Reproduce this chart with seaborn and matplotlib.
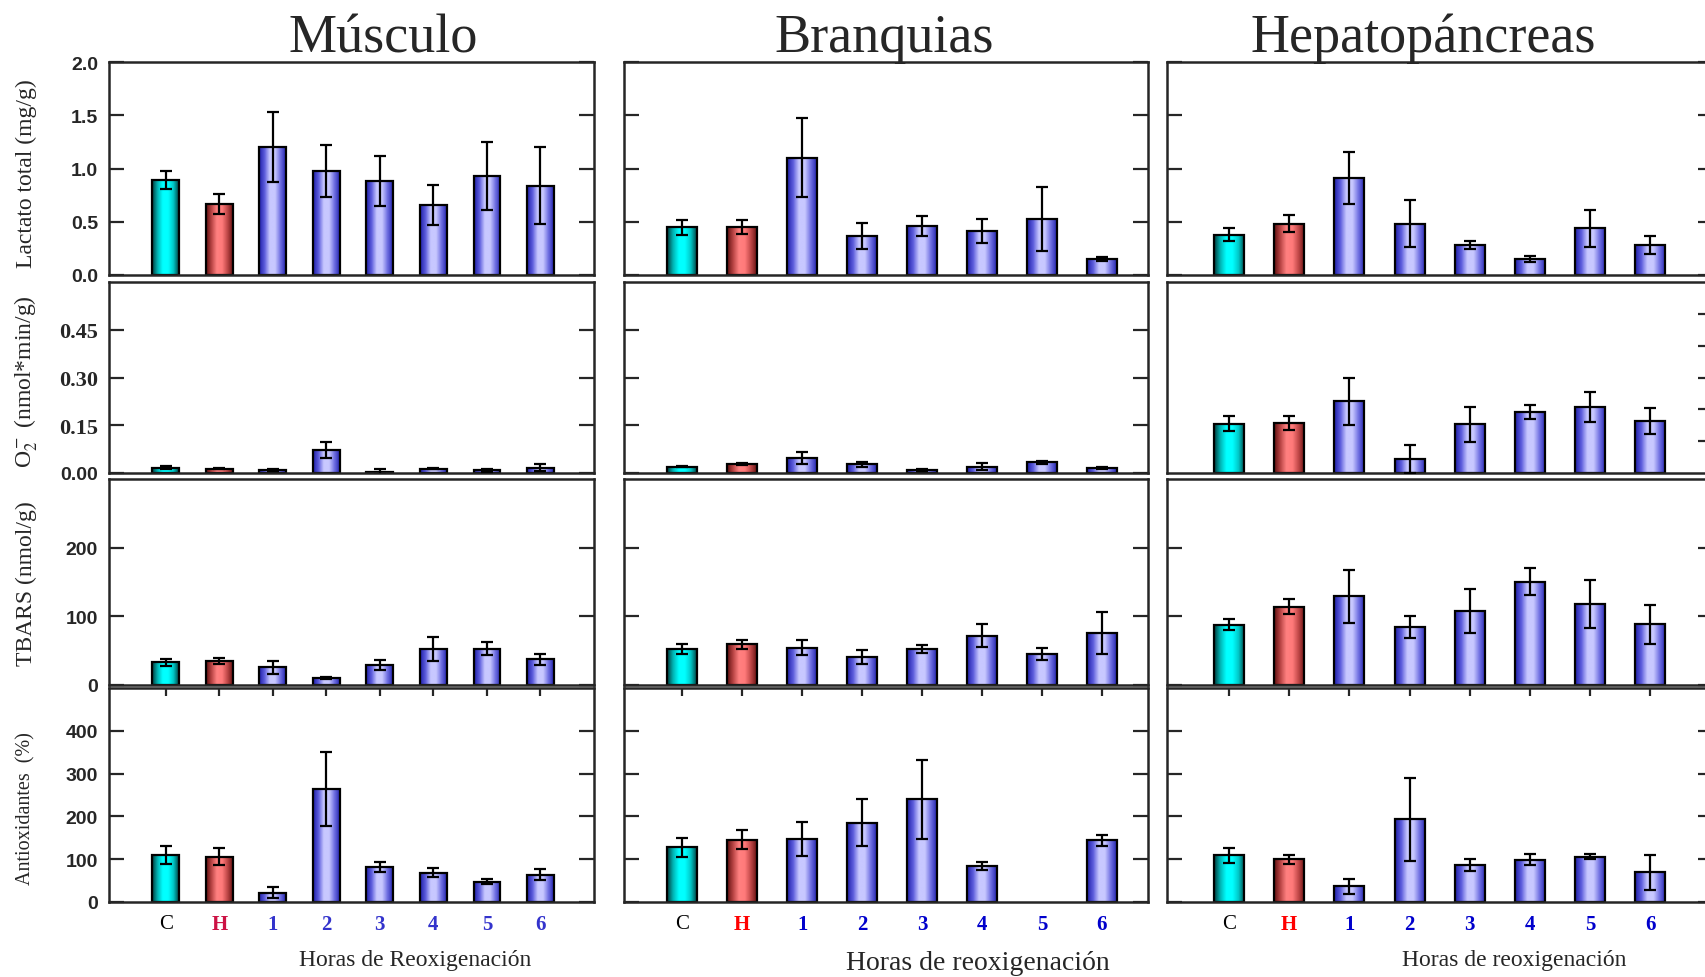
import numpy as np
import pandas as pd
import seaborn as sns
import matplotlib.pyplot as plt
from matplotlib.colors import LinearSegmentedColormap

cats = ["C", "H", "1", "2", "3", "4", "5", "6"]

# Lactato total (mg/g)
lact_mus = [0.89, 0.67, 1.20, 0.975, 0.885, 0.656, 0.93, 0.84]
lact_mus_err = [0.085, 0.095, 0.33, 0.245, 0.235, 0.185, 0.32, 0.365]
lact_bra = [0.45, 0.45, 1.10, 0.364, 0.46, 0.415, 0.53, 0.15]
lact_bra_err = [0.07, 0.065, 0.37, 0.12, 0.09, 0.11, 0.30, 0.02]
lact_hep = [0.38, 0.48, 0.91, 0.48, 0.28, 0.15, 0.44, 0.28]
lact_hep_err = [0.06, 0.08, 0.245, 0.22, 0.04, 0.03, 0.175, 0.085]

# O2- (nmol*min/g)
o2_mus = [0.017, 0.014, 0.010, 0.071, 0.004, 0.014, 0.008, 0.017]
o2_mus_err = [0.004, 0.003, 0.003, 0.025, 0.010, 0.003, 0.004, 0.012]
o2_bra = [0.020, 0.028, 0.047, 0.028, 0.008, 0.020, 0.033, 0.015]
o2_bra_err = [0.002, 0.003, 0.020, 0.008, 0.003, 0.010, 0.006, 0.003]
o2_hep = [0.155, 0.157, 0.225, 0.045, 0.153, 0.192, 0.207, 0.163]
o2_hep_err = [0.024, 0.021, 0.073, 0.044, 0.055, 0.022, 0.046, 0.042]

# TBARS (nmol/g)
tbars_mus = [33, 34.4, 25.5, 10.8, 29, 52.6, 53, 37.3]
tbars_mus_err = [5, 4.5, 10, 1.5, 7.5, 17, 10, 7.5]
tbars_bra = [52.7, 59, 54, 41, 52.7, 72, 45, 76]
tbars_bra_err = [7.4, 7, 11, 10.5, 6, 17, 8.6, 31]
tbars_hep = [88, 114, 129, 84.4, 108, 150.6, 118.5, 88.4]
tbars_hep_err = [8.4, 10.6, 38, 16, 32, 20, 35, 28]

# Antioxidantes (%)
anti_mus = [110, 105.6, 22, 263.6, 82.5, 68.6, 47, 64]
anti_mus_err = [21, 20, 12, 87, 12, 11, 6, 12]
anti_bra = [128, 145.5, 147, 185, 239.5, 84.6, np.nan, 144]
anti_bra_err = [22, 22.5, 39, 54.5, 93, 10, np.nan, 12]
anti_hep = [109, 99.6, 36.7, 193, 86, 99, 106, 69]
anti_hep_err = [18, 10, 17, 97, 13.5, 13, 5, 40]

organs = ["Músculo", "Branquias", "Hepatopáncreas"]
ylabels = ["Lactato total (mg/g)", r"O$_2^-$ (nmol*min/g)",
           "TBARS (nmol/g)", "Antioxidantes  (%)"]
xtitles = ["Horas de Reoxigenación", "Horas de reoxigenación", "Horas de reoxigenación"]

data = [
    [(lact_mus, lact_mus_err), (lact_bra, lact_bra_err), (lact_hep, lact_hep_err)],
    [(o2_mus, o2_mus_err), (o2_bra, o2_bra_err), (o2_hep, o2_hep_err)],
    [(tbars_mus, tbars_mus_err), (tbars_bra, tbars_bra_err), (tbars_hep, tbars_hep_err)],
    [(anti_mus, anti_mus_err), (anti_bra, anti_bra_err), (anti_hep, anti_hep_err)],
]

sns.set_style("ticks")
plt.rcParams["font.family"] = ["Liberation Serif", "DejaVu Serif"]
plt.rcParams["mathtext.fontset"] = "stix"

W, H = 1705, 978
fig = plt.figure(figsize=(W / 100, H / 100), dpi=100)

col_x = [(109, 594), (624, 1148), (1167, 1713)]
row_y = [(63, 276), (283, 474), (480, 686), (689, 903)]
xlims = [(-1.06, 8.0), (-0.97, 7.77), (-1.03, 8.04)]

ylims = [2.0, 0.6, 300, 500]
yticks = [[0, 0.5, 1.0, 1.5, 2.0], [0, 0.15, 0.30, 0.45], [0, 100, 200], [0, 100, 200, 300, 400]]
ytlabels = [["0.0", "0.5", "1.0", "1.5", "2.0"], ["0.00", "0.15", "0.30", "0.45"],
            ["0", "100", "200"], ["0", "100", "200", "300", "400"]]

pal = {c: ("#00ffff" if c == "C" else "#ff7f7f" if c == "H" else "#c8c8ff") for c in cats}
cmaps = [
    LinearSegmentedColormap.from_list("c", ["#003c3c", "#00b4b4", "#00ffff", "#00ffff", "#00c8c8", "#004848"]),
    LinearSegmentedColormap.from_list("h", ["#601010", "#b84444", "#ff8080", "#ff7a7a", "#c04848", "#6a1414"]),
    LinearSegmentedColormap.from_list("b", ["#2020a8", "#5c5cdc", "#c8c8ff", "#c8c8ff", "#7070e2", "#2626b0"]),
]
grad = np.linspace(0, 1, 64)[None, :]


def shade(ax):
    for p in list(ax.patches):
        x0, w, h = p.get_x(), p.get_width(), p.get_height()
        if not np.isfinite(h) or h == 0:
            continue
        i = int(round(x0 + w / 2))
        cm = cmaps[min(i, 2)]
        ax.imshow(grad, cmap=cm, extent=[x0, x0 + w, 0, h], aspect="auto",
                  interpolation="bilinear", zorder=1.5)
        p.set_facecolor("none")
        p.set_zorder(2)


for r in range(4):
    y0, y1 = row_y[r]
    for c in range(3):
        x0, x1 = col_x[c]
        ax = fig.add_axes([x0 / W, 1 - y1 / H, (x1 - x0) / W, (y1 - y0) / H])
        vals, errs = data[r][c]
        df = pd.DataFrame({"cat": cats, "val": vals})
        sns.barplot(data=df, x="cat", y="val", hue="cat", order=cats, hue_order=cats,
                    palette=pal, legend=False, errorbar=None, width=0.5,
                    edgecolor="black", linewidth=1.6, ax=ax)
        shade(ax)
        ax.errorbar(np.arange(8), vals, yerr=errs, fmt="none", ecolor="black",
                    elinewidth=1.6, capsize=4, capthick=1.6, zorder=3)
        ax.set_xlim(*xlims[c])
        ax.set_ylim(0, ylims[r])
        ax.set_xlabel("")
        ax.set_ylabel("")
        for s in ax.spines.values():
            s.set_linewidth(1.8)
            s.set_visible(True)

        # y ticks
        if r == 1 and c == 2:
            ax.set_yticks([0.1, 0.2, 0.3, 0.4, 0.5])
            ax.tick_params(axis="y", direction="in", left=False, right=True,
                           length=11, width=1.6, labelleft=False)
        else:
            ax.set_yticks(yticks[r])
            ax.tick_params(axis="y", direction="in", left=True, right=True,
                           length=11, width=1.6, labelleft=(c == 0), pad=8)
            if c == 0:
                ax.set_yticklabels(ytlabels[r])
                for k, t in enumerate(ax.get_yticklabels()):
                    if r == 1 and k > 0:
                        t.set_fontfamily(["Liberation Serif", "DejaVu Serif"])
                        t.set_fontsize(16)
                    else:
                        t.set_fontfamily(["Liberation Sans", "DejaVu Sans"])
                        t.set_fontsize(14)
                    t.set_fontweight("bold")

        # x ticks
        if r == 3:
            ax.set_xticks(range(8))
            ax.set_xticklabels(cats)
            ax.tick_params(axis="x", bottom=False, top=True, direction="in",
                           length=6, width=1.6, labelbottom=True, pad=9)
            hcol = "#cc1144" if c == 0 else "#ff0000"
            ncol = "#3333cc" if c == 0 else "#0000cc"
            for k, t in enumerate(ax.get_xticklabels()):
                t.set_fontsize(15)
                if k == 0:
                    t.set_color("black")
                else:
                    t.set_color(hcol if k == 1 else ncol)
                    t.set_fontweight("bold")
        else:
            ax.tick_params(axis="x", bottom=False, top=False, labelbottom=False)

for r, lab in enumerate(ylabels):
    yc = [174, 382, 584, 809][r]
    fs = 14.5 if r == 3 else 17
    fig.text(26 / W, 1 - yc / H, lab, rotation=90, ha="center", va="center", fontsize=fs)

for c, name in enumerate(organs):
    xc = [383, 884, 1423][c]
    fig.text(xc / W, 1 - 39 / H, name, ha="center", va="center", fontsize=39)

for c, lab in enumerate(xtitles):
    xc, yc, fs = [(415, 961, 17), (978, 964, 20), (1514, 961, 17)][c]
    fig.text(xc / W, 1 - yc / H, lab, ha="center", va="center", fontsize=fs)

plt.savefig("out.png", dpi=100)
